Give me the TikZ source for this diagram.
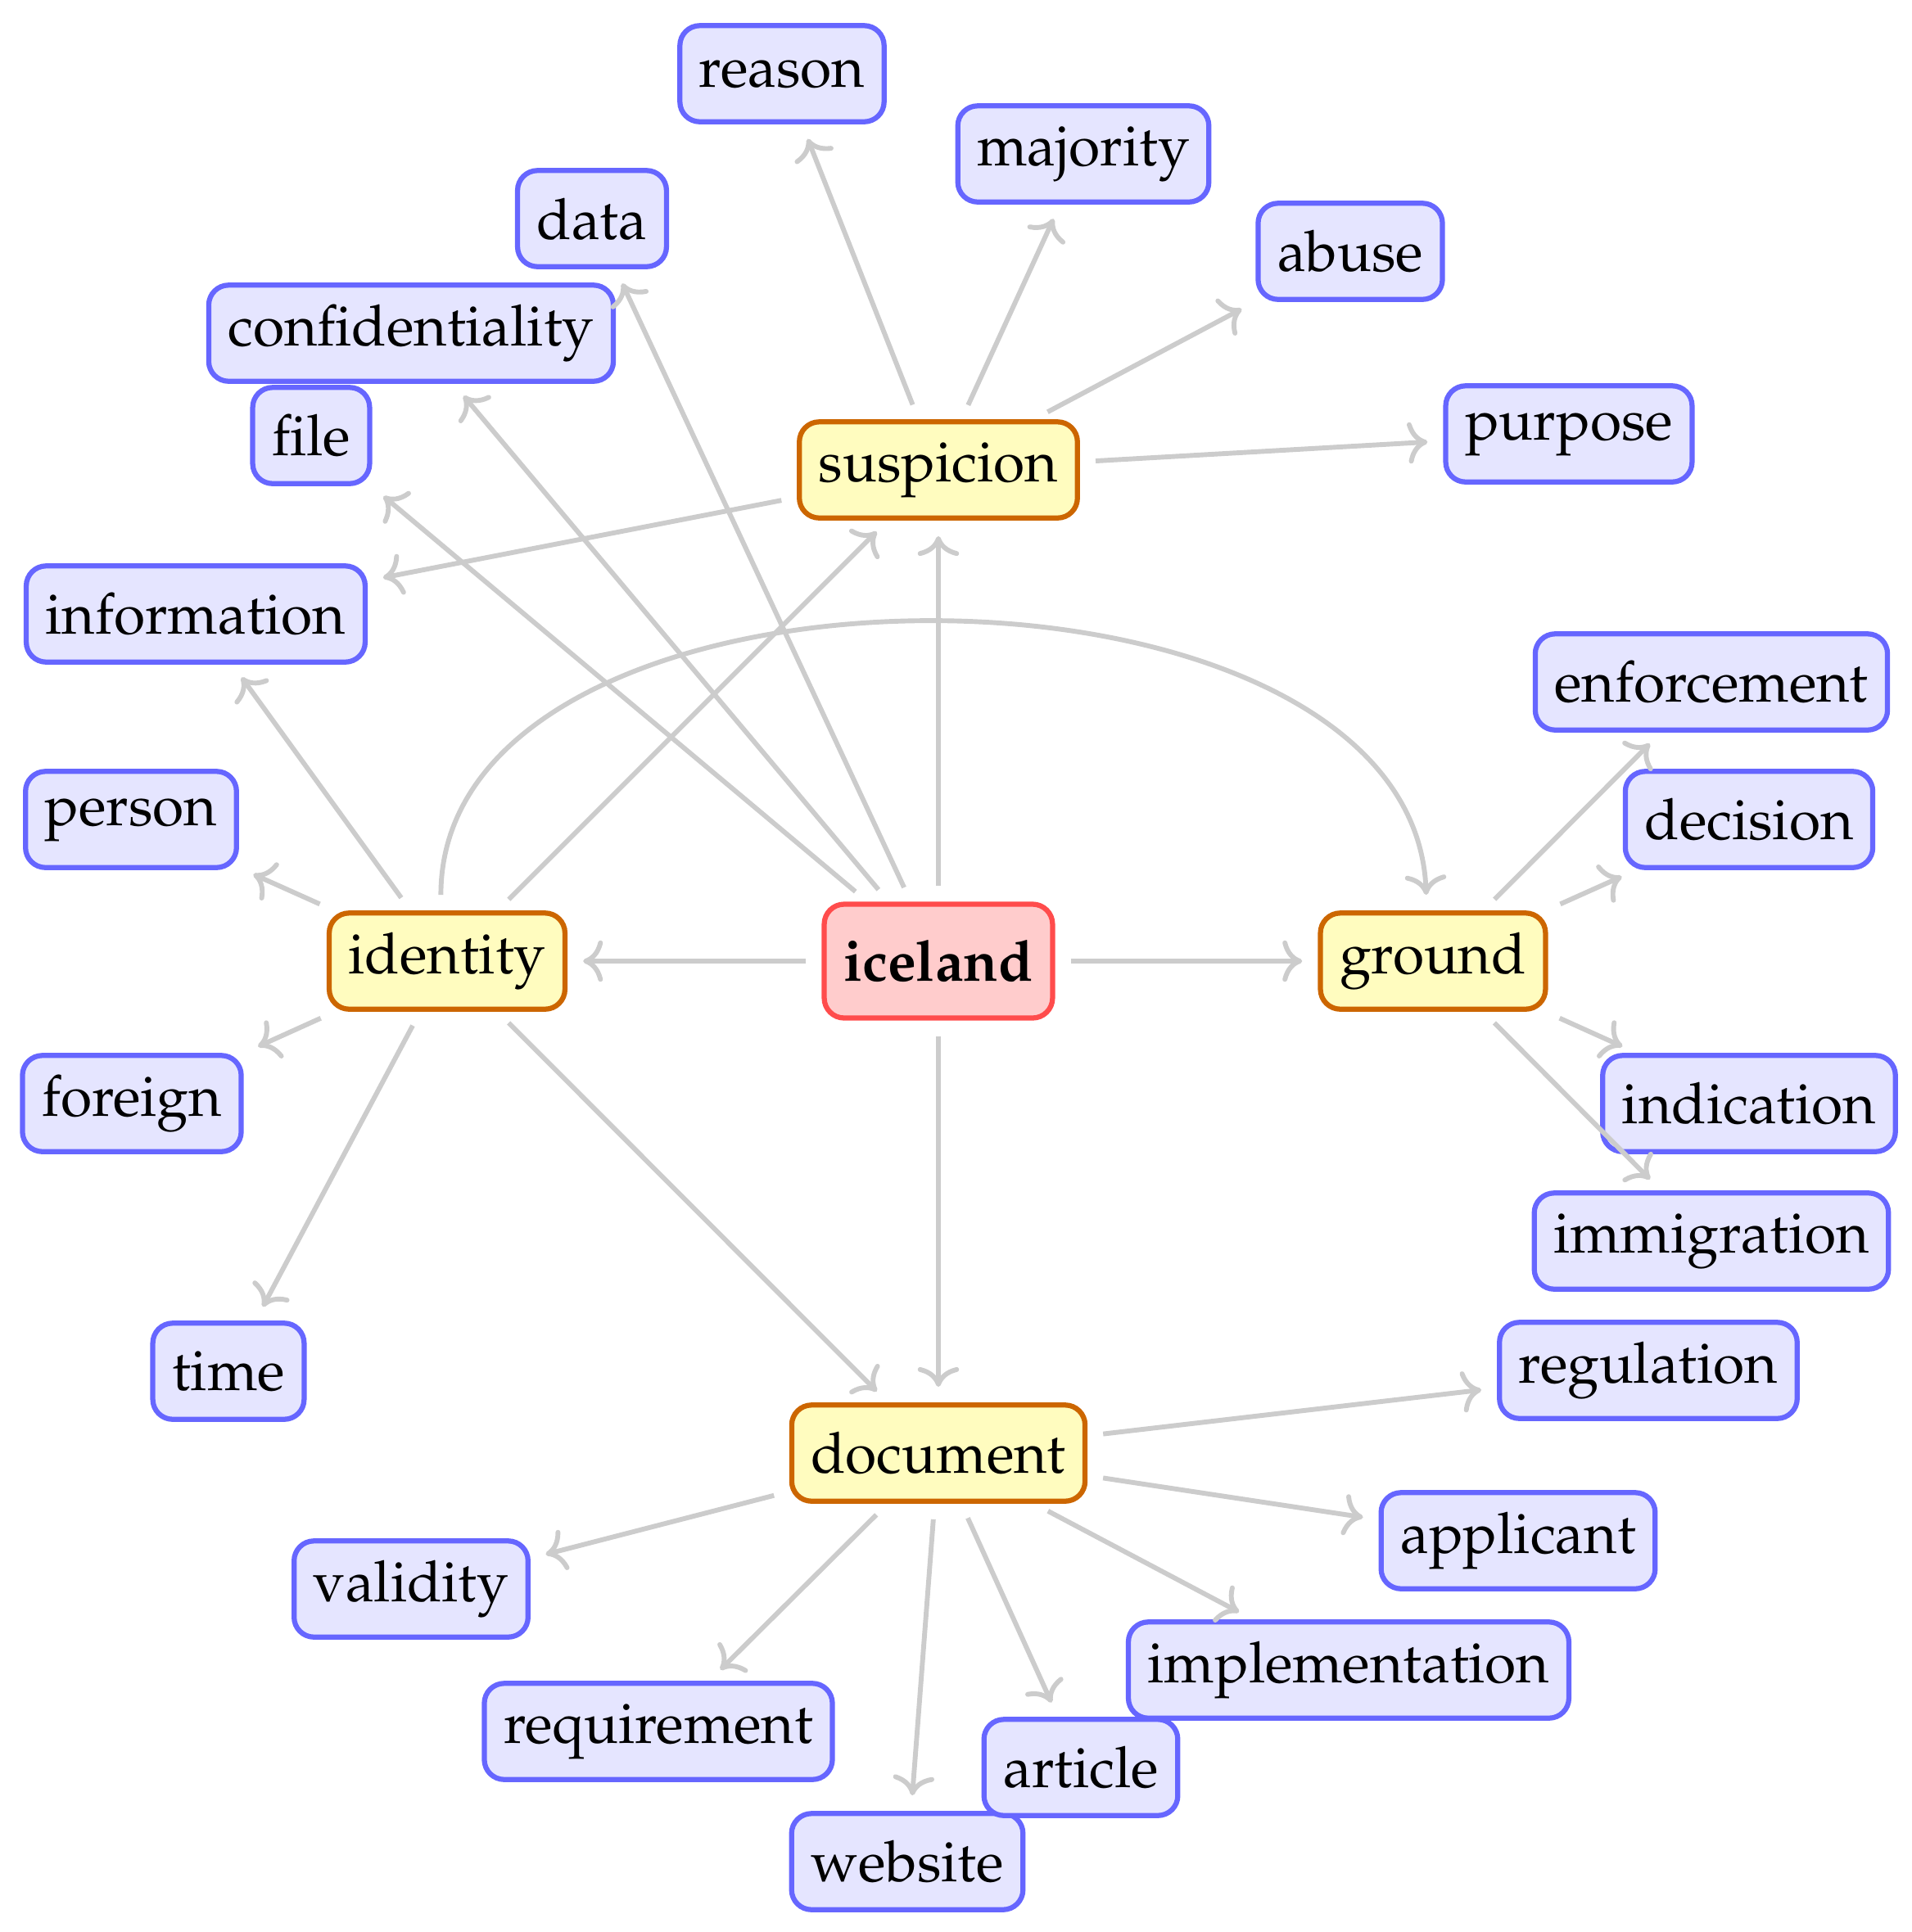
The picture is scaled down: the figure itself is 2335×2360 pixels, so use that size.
\documentclass[tikz,border=0pt]{standalone}
\usepackage[T1]{fontenc}
\renewcommand{\rmdefault}{ppl}
\usetikzlibrary{arrows.meta}
\tikzset{
  box/.style={draw, rounded corners=3.5pt, line width=0.9pt, inner sep=3.4pt,
    minimum height=16.9pt, font=\fontsize{10}{12}\selectfont},
  leaf/.style={box, fill=blue!10, draw=blue!60},
  hub/.style={box, fill=yellow!25, draw=orange!80!black},
  root/.style={box, fill=red!20, draw=red!70, minimum height=20pt,
    font=\fontsize{10}{12}\selectfont\bfseries},
  link/.style={draw=black!20, line width=0.85pt, -{Computer Modern Rightarrow},
    shorten >=2.75pt, shorten <=2.75pt},
}
\begin{document}
\begin{tikzpicture}[x=0.14388pt, y=-0.14388pt]
\useasboundingbox (0,0) rectangle (2335,2360);
% root and hubs
\node[root] (iceland) at (1146,1174) {iceland};
\node[hub] (identity) at (546,1174) {identity};
\node[hub] (ground) at (1750,1174) {ground};
\node[hub] (suspicion) at (1146,574) {suspicion};
\node[hub] (document) at (1146,1775) {document};
% leaves
\node[leaf] (reason) at (955,90) {reason};
\node[leaf] (majority) at (1323,188) {majority};
\node[leaf] (data) at (723,267) {data};
\node[leaf] (abuse) at (1649,307) {abuse};
\node[leaf] (confidentiality) at (502,407) {confidentiality};
\node[leaf] (file) at (380,532) {file};
\node[leaf] (purpose) at (1916,530) {purpose};
\node[leaf] (information) at (239,750) {information};
\node[leaf] (enforcement) at (2090,833) {enforcement};
\node[leaf] (decision) at (2136,1001) {decision};
\node[leaf] (person) at (160,1001) {person};
\node[leaf] (foreign) at (161,1348) {foreign};
\node[leaf] (indication) at (2136,1348) {indication};
\node[leaf] (immigration) at (2090,1516) {immigration};
\node[leaf] (time) at (279,1675) {time};
\node[leaf] (regulation) at (2013,1674) {regulation};
\node[leaf] (validity) at (502,1941) {validity};
\node[leaf] (applicant) at (1854,1882) {applicant};
\node[leaf] (requirement) at (804,2115) {requirement};
\node[leaf] (implementation) at (1647,2040) {implementation};
\node[leaf] (website) at (1108,2274) {website};
\node[leaf] (article) at (1320,2159) {article};
% edges from root
\draw[link] (iceland) -- (identity);
\draw[link] (iceland) -- (ground);
\draw[link] (iceland) -- (suspicion);
\draw[link] (iceland) -- (document);
\draw[link] (iceland) -- (file);
\draw[link] (iceland) -- (confidentiality);
\draw[link] (iceland) -- (data);
% identity
\draw[link] (identity) -- (suspicion);
\draw[link] (identity) -- (information);
\draw[link] (identity) -- (person);
\draw[link] (identity) -- (foreign);
\draw[link] (identity) -- (time);
\draw[link] (identity) -- (document);
\draw[link] (identity.97) to[out=90, in=92, looseness=0.99] (ground.97);
% suspicion
\draw[link] (suspicion) -- (reason);
\draw[link] (suspicion) -- (majority);
\draw[link] (suspicion) -- (abuse);
\draw[link] (suspicion) -- (purpose);
\draw[link] (suspicion) -- (information);
% ground
\draw[link] (ground) -- (enforcement);
\draw[link] (ground) -- (decision);
\draw[link] (ground) -- (indication);
\draw[link] (ground) -- (immigration);
% document
\draw[link] (document) -- (regulation);
\draw[link] (document) -- (applicant);
\draw[link] (document) -- (implementation);
\draw[link] (document) -- (article);
\draw[link] (document) -- (website);
\draw[link] (document) -- (requirement);
\draw[link] (document) -- (validity);
\end{tikzpicture}
\end{document}
